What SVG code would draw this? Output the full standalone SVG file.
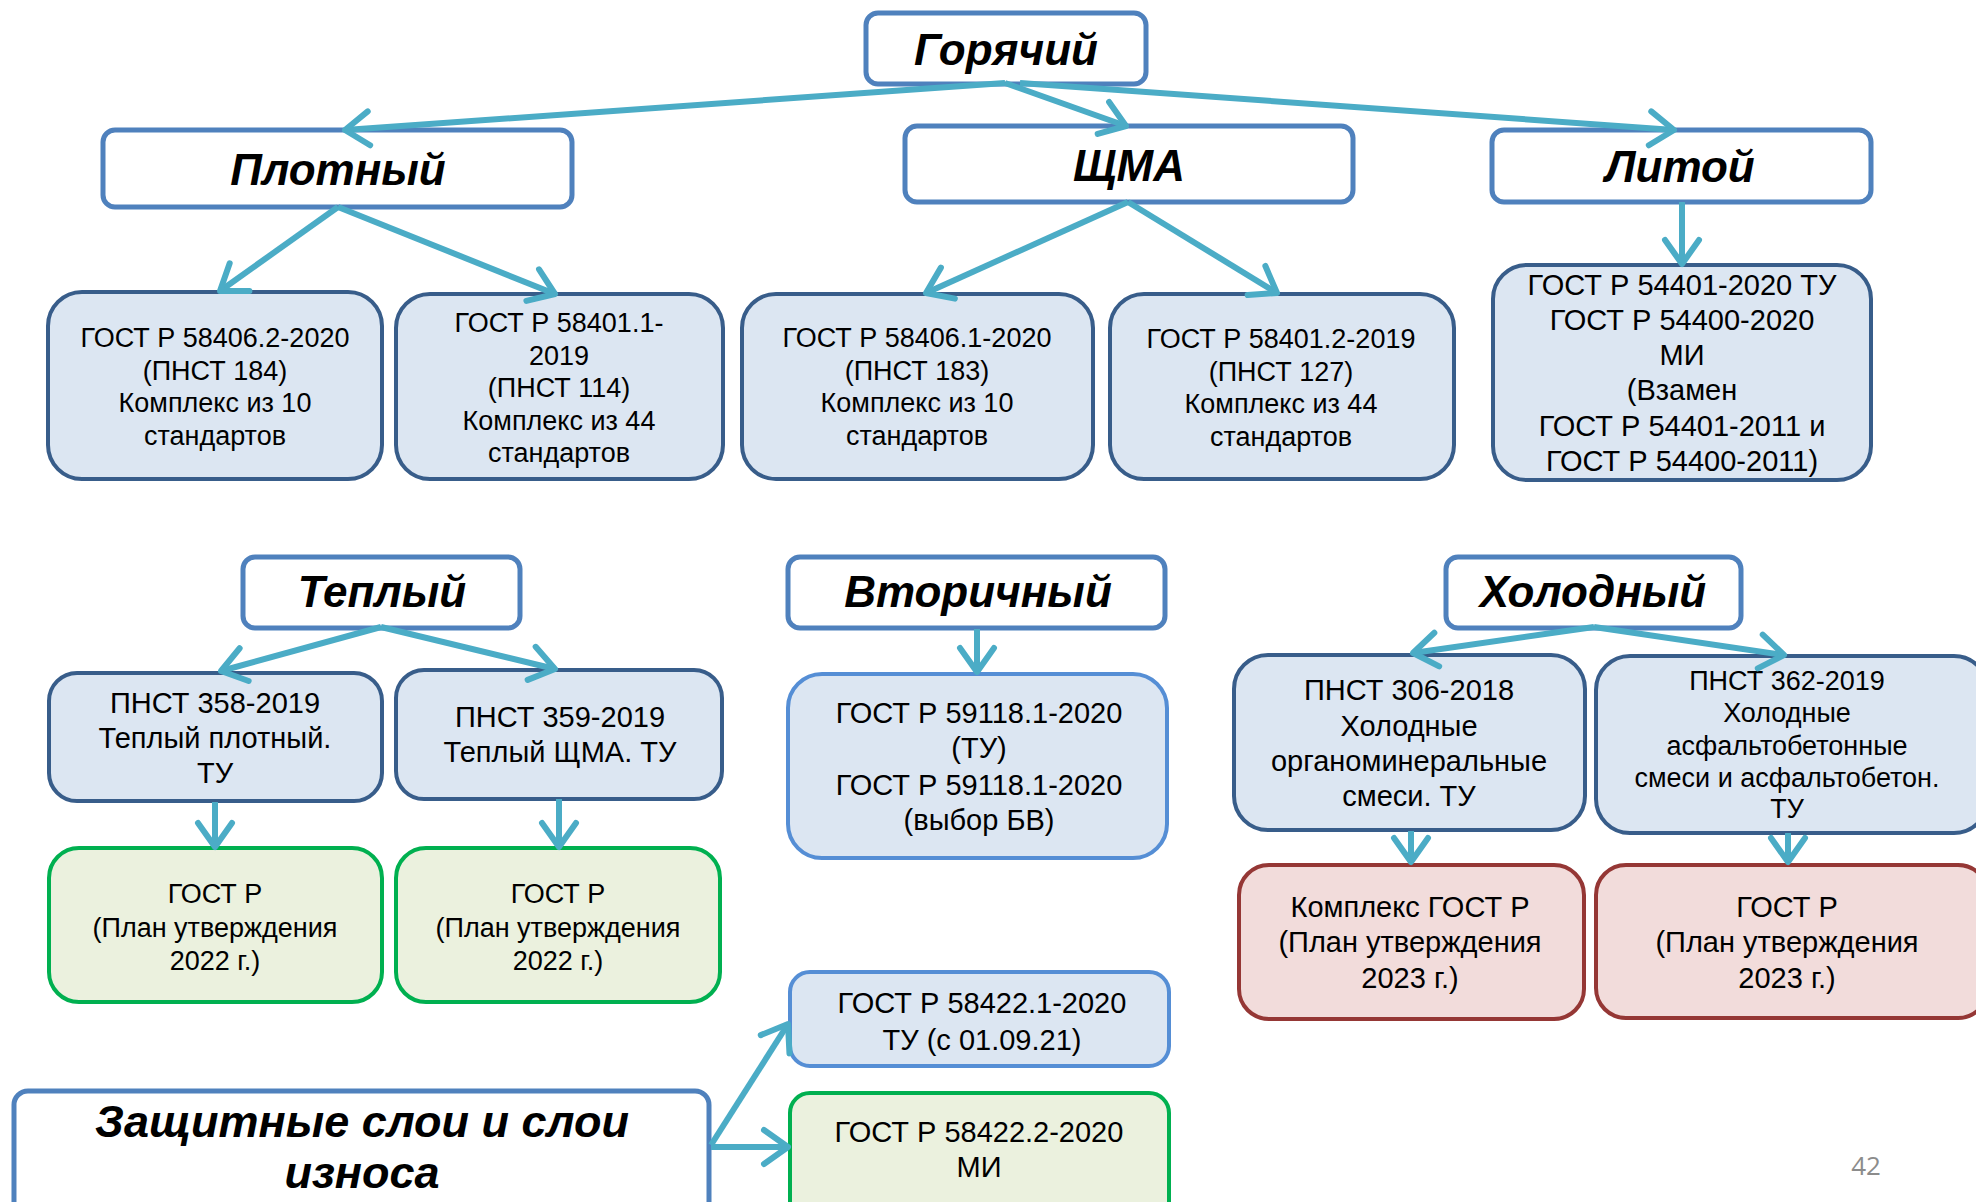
<svg xmlns="http://www.w3.org/2000/svg" width="1976" height="1202" viewBox="0 0 1976 1202">
<style>
text{font-family:"Liberation Sans",Arial,sans-serif;fill:#000;text-anchor:middle}
.h{font-weight:bold;font-style:italic;font-size:44px}
.t27{font-size:27px}
.t29{font-size:29px}
.hb{fill:#fff;stroke:#4f81bd;stroke-width:5}
.bb{fill:#dce6f2;stroke:#385d8a;stroke-width:4}
.lb{fill:#dce6f2;stroke:#558ed5;stroke-width:4}
.gb{fill:#ebf1de;stroke:#00b050;stroke-width:4}
.rb{fill:#f2dcdb;stroke:#953735;stroke-width:4}
.c line{stroke:#4bacc6;stroke-width:6;marker-end:url(#arr)}
.pg{font-family:"Open Sans","Liberation Sans",sans-serif;font-size:26px;fill:#8c8c8c}
</style>
<defs>
<marker id="arr" markerUnits="userSpaceOnUse" viewBox="-30 -20 34 40" refX="0" refY="0" markerWidth="34" markerHeight="40" orient="auto" overflow="visible">
<path d="M-24,-17 L0,0 L-24,17" fill="none" stroke="#4bacc6" stroke-width="6" stroke-linejoin="round" stroke-linecap="round"/>
</marker>
</defs>
<rect width="1976" height="1202" fill="#fff"/>

<g id="n-goryachiy"><rect class="hb" x="866" y="13" width="280" height="71" rx="12"/><text class="h" x="1006" y="65">Горячий</text></g>
<g id="n-plotnyy"><rect class="hb" x="103" y="130" width="469" height="77" rx="12"/><text class="h" x="338" y="185">Плотный</text></g>
<g id="n-shma"><rect class="hb" x="905" y="126" width="448" height="76" rx="12"/><text class="h" x="1129" y="181">ЩМА</text></g>
<g id="n-litoy"><rect class="hb" x="1492" y="130" width="379" height="72" rx="12"/><text class="h" x="1680" y="182">Литой</text></g>

<g id="n-a"><rect class="bb" x="48" y="292" width="334" height="187" rx="34"/>
<text class="t27"><tspan x="215" y="347">ГОСТ Р 58406.2-2020</tspan><tspan x="215" y="380">(ПНСТ 184)</tspan><tspan x="215" y="412">Комплекс из 10</tspan><tspan x="215" y="445">стандартов</tspan></text></g>
<g id="n-b"><rect class="bb" x="396" y="294" width="327" height="185" rx="34"/>
<text class="t27"><tspan x="559" y="332">ГОСТ Р 58401.1-</tspan><tspan x="559" y="365">2019</tspan><tspan x="559" y="397">(ПНСТ 114)</tspan><tspan x="559" y="430">Комплекс из 44</tspan><tspan x="559" y="462">стандартов</tspan></text></g>
<g id="n-c"><rect class="bb" x="742" y="294" width="351" height="185" rx="34"/>
<text class="t27"><tspan x="917" y="347">ГОСТ Р 58406.1-2020</tspan><tspan x="917" y="380">(ПНСТ 183)</tspan><tspan x="917" y="412">Комплекс из 10</tspan><tspan x="917" y="445">стандартов</tspan></text></g>
<g id="n-d"><rect class="bb" x="1110" y="294" width="344" height="185" rx="34"/>
<text class="t27"><tspan x="1281" y="348">ГОСТ Р 58401.2-2019</tspan><tspan x="1281" y="381">(ПНСТ 127)</tspan><tspan x="1281" y="413">Комплекс из 44</tspan><tspan x="1281" y="446">стандартов</tspan></text></g>
<g id="n-e"><rect class="bb" x="1493" y="265" width="378" height="215" rx="34"/>
<text class="t29"><tspan x="1682" y="295">ГОСТ Р 54401-2020 ТУ</tspan><tspan x="1682" y="330">ГОСТ Р 54400-2020</tspan><tspan x="1682" y="365">МИ</tspan><tspan x="1682" y="400">(Взамен</tspan><tspan x="1682" y="436">ГОСТ Р 54401-2011 и</tspan><tspan x="1682" y="471">ГОСТ Р 54400-2011)</tspan></text></g>

<g id="n-teplyy"><rect class="hb" x="243" y="557" width="277" height="71" rx="12"/><text class="h" x="382" y="607">Теплый</text></g>
<g id="n-vtorichnyy"><rect class="hb" x="788" y="557" width="377" height="71" rx="12"/><text class="h" x="978" y="607">Вторичный</text></g>
<g id="n-holodnyy"><rect class="hb" x="1446" y="557" width="295" height="71" rx="12"/><text class="h" x="1593" y="607">Холодный</text></g>

<g id="n-t1"><rect class="bb" x="49" y="673" width="333" height="128" rx="28"/>
<text class="t29"><tspan x="215" y="713">ПНСТ 358-2019</tspan><tspan x="215" y="748">Теплый плотный.</tspan><tspan x="215" y="783">ТУ</tspan></text></g>
<g id="n-t2"><rect class="bb" x="396" y="670" width="326" height="129" rx="28"/>
<text class="t29"><tspan x="560" y="727">ПНСТ 359-2019</tspan><tspan x="560" y="762">Теплый ЩМА. ТУ</tspan></text></g>
<g id="n-t1g"><rect class="gb" x="49" y="848" width="333" height="154" rx="30"/>
<text class="t27"><tspan x="215" y="903">ГОСТ Р</tspan><tspan x="215" y="937">(План утверждения</tspan><tspan x="215" y="970">2022 г.)</tspan></text></g>
<g id="n-t2g"><rect class="gb" x="396" y="848" width="324" height="154" rx="30"/>
<text class="t27"><tspan x="558" y="903">ГОСТ Р</tspan><tspan x="558" y="937">(План утверждения</tspan><tspan x="558" y="970">2022 г.)</tspan></text></g>

<g id="n-v1"><rect class="lb" x="788" y="674" width="379" height="184" rx="34"/>
<text class="t29"><tspan x="979" y="723">ГОСТ Р 59118.1-2020</tspan><tspan x="979" y="758">(ТУ)</tspan><tspan x="979" y="795">ГОСТ Р 59118.1-2020</tspan><tspan x="979" y="830">(выбор БВ)</tspan></text></g>

<g id="n-h1"><rect class="bb" x="1234" y="655" width="351" height="175" rx="34"/>
<text class="t29"><tspan x="1409" y="700">ПНСТ 306-2018</tspan><tspan x="1409" y="736">Холодные</tspan><tspan x="1409" y="771">органоминеральные</tspan><tspan x="1409" y="806">смеси. ТУ</tspan></text></g>
<g id="n-h2"><rect class="bb" x="1596" y="656" width="392" height="177" rx="34"/>
<text class="t27"><tspan x="1787" y="690">ПНСТ 362-2019</tspan><tspan x="1787" y="722">Холодные</tspan><tspan x="1787" y="755">асфальтобетонные</tspan><tspan x="1787" y="787">смеси и асфальтобетон.</tspan><tspan x="1787" y="818">ТУ</tspan></text></g>
<g id="n-h1r"><rect class="rb" x="1239" y="865" width="345" height="154" rx="30"/>
<text class="t29"><tspan x="1410" y="917">Комплекс ГОСТ Р</tspan><tspan x="1410" y="952">(План утверждения</tspan><tspan x="1410" y="988">2023 г.)</tspan></text></g>
<g id="n-h2r"><rect class="rb" x="1596" y="865" width="392" height="153" rx="30"/>
<text class="t29"><tspan x="1787" y="917">ГОСТ Р</tspan><tspan x="1787" y="952">(План утверждения</tspan><tspan x="1787" y="988">2023 г.)</tspan></text></g>

<g id="n-zashchitnye"><rect class="hb" x="14" y="1091" width="695" height="130" rx="14"/>
<text class="h" style="font-size:45px"><tspan x="362" y="1137">Защитные слои и слои</tspan><tspan x="362" y="1188">износа</tspan></text></g>
<g id="n-z1"><rect class="lb" x="790" y="972" width="379" height="94" rx="20"/>
<text class="t29"><tspan x="982" y="1013">ГОСТ Р 58422.1-2020</tspan><tspan x="982" y="1050">ТУ (с 01.09.21)</tspan></text></g>
<g id="n-z2"><rect class="gb" x="790" y="1093" width="379" height="130" rx="20"/>
<text class="t29"><tspan x="979" y="1142">ГОСТ Р 58422.2-2020</tspan><tspan x="979" y="1177">МИ</tspan></text></g>

<text class="pg" x="1866" y="1175">42</text>

<g id="connectors" class="c">
<line x1="1005" y1="83" x2="345" y2="130"/>
<line x1="1005" y1="83" x2="1126" y2="126"/>
<line x1="1020" y1="83" x2="1674" y2="130"/>
<line x1="338" y1="207" x2="220" y2="291"/>
<line x1="338" y1="207" x2="555" y2="294"/>
<line x1="1128" y1="202" x2="926" y2="293"/>
<line x1="1128" y1="202" x2="1277" y2="293"/>
<line x1="1682" y1="202" x2="1682" y2="264"/>
<line x1="381" y1="627" x2="221" y2="671"/>
<line x1="381" y1="627" x2="555" y2="669"/>
<line x1="215" y1="802" x2="215" y2="847"/>
<line x1="559" y1="799" x2="559" y2="847"/>
<line x1="977" y1="629" x2="977" y2="672"/>
<line x1="1594" y1="627" x2="1413" y2="653"/>
<line x1="1594" y1="627" x2="1784" y2="655"/>
<line x1="1411" y1="831" x2="1411" y2="862"/>
<line x1="1788" y1="833" x2="1788" y2="862"/>
<line x1="711" y1="1145" x2="788" y2="1024"/>
<line x1="711" y1="1147" x2="788" y2="1147"/>
</g>
</svg>
